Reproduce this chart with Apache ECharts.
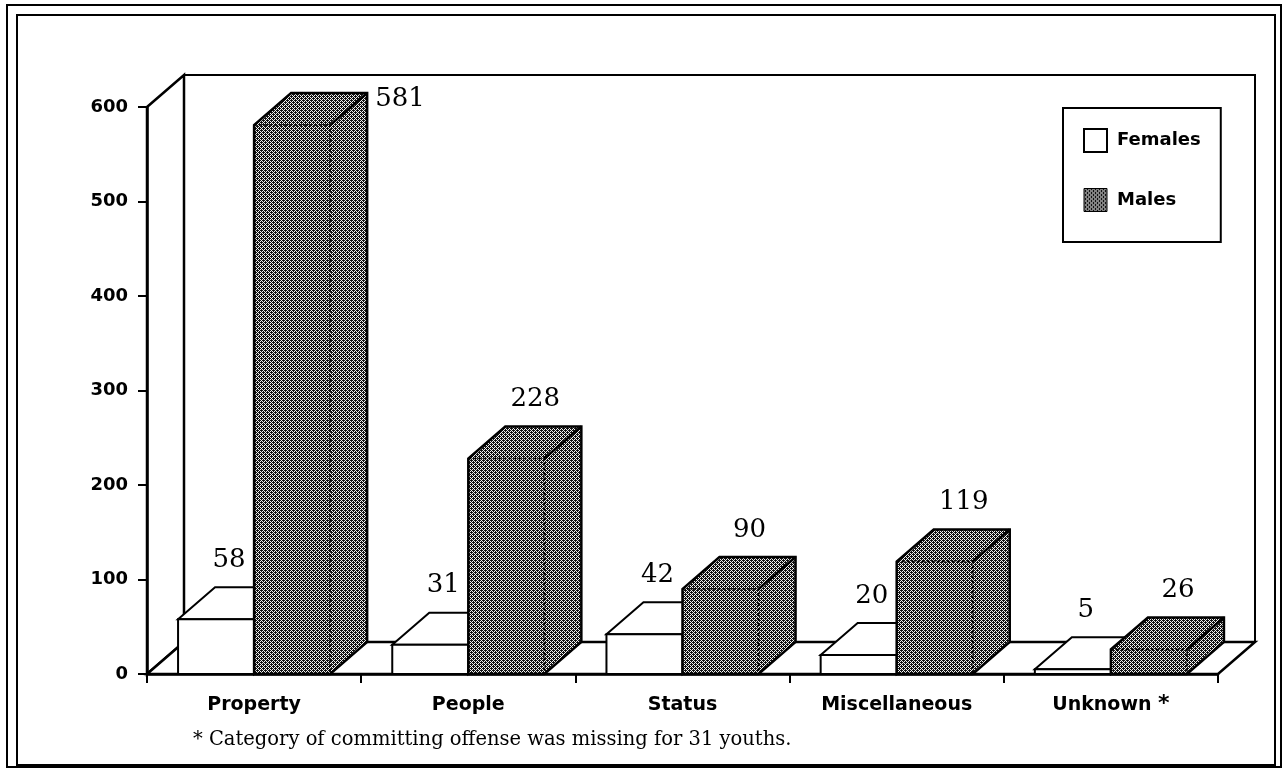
<!DOCTYPE html>
<html>
<head>
<meta charset="utf-8">
<title>Offense category by sex</title>
<script src="https://cdn.jsdelivr.net/npm/echarts@6/dist/echarts.min.js"></script>
<style>
  html, body { margin: 0; padding: 0; background: #fff; }
  #chart { width: 1283px; height: 769px; }
</style>
</head>
<body>
<div id="chart"></div>
<script>
// data
const categories = ['Property', 'People', 'Status', 'Miscellaneous', 'Unknown *']
const femaleCounts = [58, 31, 42, 20, 5]
const maleCounts = [581, 228, 90, 119, 26]
const yMin = 0
const yMax = 600
const yStep = 100
const footnote = '* Category of committing offense was missing for 31 youths.'

// 3d depth of the bars / walls, in pixels
const DX = 37
const DY = -32
const sansFont = 'DejaVu Sans'
const serifFont = 'DejaVu Serif'

// dithered grey fill used for the male bars
const makeDither = () => {
  const c = document.createElement('canvas')
  c.width = 4
  c.height = 4
  const ctx = c.getContext('2d')
  ctx.fillStyle = '#f2f2f2'
  ctx.fillRect(0, 0, 4, 4)
  ctx.fillStyle = '#111'
  for (let y = 0; y < 4; y++) {
    for (let x = 0; x < 4; x++) {
      if ((x + y) % 2 === 0) ctx.fillRect(x, y, 1, 1)
    }
  }
  ctx.fillRect(1, 2, 1, 1)
  ctx.fillRect(3, 0, 1, 1)
  return c
}
const dither = { image: makeDither(), repeat: 'repeat' }

const chart = echarts.init(document.getElementById('chart'), null, { renderer: 'canvas' })

// back wall, side wall and floor of the 3d box
const renderWalls = (params, api) => {
  const cs = params.coordSys
  const L = cs.x
  const R = cs.x + cs.width
  const T = api.coord([0, yMax])[1]
  const B = api.coord([0, yMin])[1]
  const line = { fill: '#fff', stroke: '#000', lineWidth: 2 }
  return {
    type: 'group',
    children: [
      { type: 'polygon', shape: { points: [[L + DX, T + DY], [R + DX, T + DY], [R + DX, B + DY], [L + DX, B + DY]] }, style: line },
      { type: 'polygon', shape: { points: [[L, T], [L + DX, T + DY], [L + DX, B + DY], [L, B]] }, style: { ...line, lineWidth: 2.5 } },
      { type: 'polygon', shape: { points: [[L, B], [R, B], [R + DX, B + DY], [L + DX, B + DY]] }, style: { ...line, lineWidth: 2.5 } }
    ]
  }
}

const makeBarRenderer = (isMale) => (params, api) => {
  const i = api.value(0)
  const v = api.value(1)
  const base = api.coord([i, 0])
  const top = api.coord([i, v])
  const band = api.size([1, 0])[0]
  const w = band * 0.355
  const x0 = isMale ? base[0] : base[0] - w
  const x1 = x0 + w
  const yB = base[1]
  const yT = top[1]

  const front = [[x0, yB], [x1, yB], [x1, yT], [x0, yT]]
  const topFace = [[x0, yT], [x1, yT], [x1 + DX, yT + DY], [x0 + DX, yT + DY]]
  const side = [[x1, yB], [x1 + DX, yB + DY], [x1 + DX, yT + DY], [x1, yT]]

  const children = []
  if (isMale) {
    children.push(
      { type: 'polygon', shape: { points: side }, style: { fill: dither, stroke: null } },
      { type: 'polygon', shape: { points: topFace }, style: { fill: dither, stroke: null } },
      { type: 'polygon', shape: { points: front }, style: { fill: dither, stroke: null } },
      // outline
      {
        type: 'polygon',
        shape: { points: [[x0, yB], [x0, yT], [x0 + DX, yT + DY], [x1 + DX, yT + DY], [x1 + DX, yB + DY], [x1, yB]] },
        style: { fill: null, stroke: '#000', lineWidth: 2.5 }
      },
      { type: 'polyline', shape: { points: [[x1 + DX, yT + DY], [x1, yT]] }, style: { fill: null, stroke: '#000', lineWidth: 2.5 } },
      { type: 'polyline', shape: { points: [[x0, yT], [x1, yT], [x1, yB]] }, style: { fill: null, stroke: '#000', lineWidth: 1.5, lineDash: [3, 2] } }
    )
  } else {
    children.push(
      { type: 'polygon', shape: { points: side }, style: { fill: '#fff', stroke: '#000', lineWidth: 2 } },
      { type: 'polygon', shape: { points: topFace }, style: { fill: '#fff', stroke: '#000', lineWidth: 2 } },
      { type: 'polygon', shape: { points: front }, style: { fill: '#fff', stroke: '#000', lineWidth: 2 } }
    )
  }

  // value label above the top face, or to the right when it would leave the box
  let lx = (x0 + x1) / 2 + (isMale ? 29 : 13)
  let ly = yT + DY - 27
  let align = 'center'
  if (ly < params.coordSys.y) {
    lx = x1 + DX + 8
    ly = yT + DY + 6
    align = 'left'
  }
  children.push({
    type: 'text',
    style: {
      text: String(v),
      x: lx,
      y: ly,
      fill: '#000',
      fontFamily: serifFont,
      fontSize: 26,
      align: align,
      verticalAlign: 'middle'
    }
  })
  return { type: 'group', children: children }
}

const option = {
  animation: false,
  backgroundColor: '#fff',
  grid: { left: 147, right: 65, top: 107, bottom: 95 },
  legend: {
    orient: 'vertical',
    left: 1063,
    top: 108,
    padding: [20, 20, 30, 20],
    itemWidth: 23,
    itemHeight: 23,
    itemGap: 35,
    selectedMode: false,
    borderColor: '#000',
    borderWidth: 2,
    backgroundColor: '#fff',
    textStyle: { fontFamily: sansFont, fontWeight: 'bold', fontSize: 18, color: '#000', padding: [0, 0, 0, 5] },
    data: [
      { name: 'Females', icon: 'rect', itemStyle: { color: '#fff', borderColor: '#000', borderWidth: 2 } },
      { name: 'Males', icon: 'rect', itemStyle: { color: dither, borderColor: '#000', borderWidth: 1 } }
    ]
  },
  xAxis: {
    type: 'category',
    data: categories,
    z: 10,
    axisLine: { lineStyle: { color: '#000', width: 2.5 } },
    axisTick: { show: true, length: 9, lineStyle: { color: '#000', width: 2 } },
    axisLabel: {
      interval: 0,
      hideOverlap: false,
      margin: 19,
      color: '#000',
      fontFamily: sansFont,
      fontWeight: 'bold',
      fontSize: 19,
      lineHeight: 24,
      formatter: (v) => (v.endsWith('*') ? '{n|' + v.slice(0, -1) + '}{s|*}' : '{n|' + v + '}'),
      rich: {
        n: { fontFamily: sansFont, fontWeight: 'bold', fontSize: 19, lineHeight: 24, color: '#000' },
        s: { fontFamily: sansFont, fontWeight: 'bold', fontSize: 22, lineHeight: 24, color: '#000', verticalAlign: 'top' }
      }
    },
    splitLine: { show: false }
  },
  yAxis: {
    type: 'value',
    min: yMin,
    max: yMax,
    interval: yStep,
    z: 10,
    axisLine: { show: true, lineStyle: { color: '#000', width: 2.5 } },
    axisTick: { show: true, length: 9, lineStyle: { color: '#000', width: 2 } },
    axisLabel: { margin: 19, color: '#000', fontFamily: sansFont, fontWeight: 'bold', fontSize: 18 },
    splitLine: { show: false }
  },
  series: [
    {
      type: 'custom',
      name: 'walls',
      z: 1,
      silent: true,
      renderItem: renderWalls,
      data: [[0, yMax]]
    },
    {
      type: 'custom',
      name: 'Females',
      z: 2,
      itemStyle: { color: '#fff' },
      renderItem: makeBarRenderer(false),
      data: femaleCounts.map((v, i) => [i, v])
    },
    {
      type: 'custom',
      name: 'Males',
      z: 3,
      itemStyle: { color: '#888' },
      renderItem: makeBarRenderer(true),
      data: maleCounts.map((v, i) => [i, v])
    }
  ],
  graphic: [
    { type: 'rect', shape: { x: 7, y: 5, width: 1274, height: 762 }, style: { fill: null, stroke: '#000', lineWidth: 2 }, silent: true },
    { type: 'rect', shape: { x: 17, y: 15, width: 1258, height: 750 }, style: { fill: null, stroke: '#000', lineWidth: 2 }, silent: true },
    {
      type: 'text',
      left: 193,
      top: 730,
      style: { text: footnote, fill: '#000', fontFamily: serifFont, fontSize: 19.5 },
      silent: true
    }
  ]
}

chart.setOption(option)
</script>
</body>
</html>
